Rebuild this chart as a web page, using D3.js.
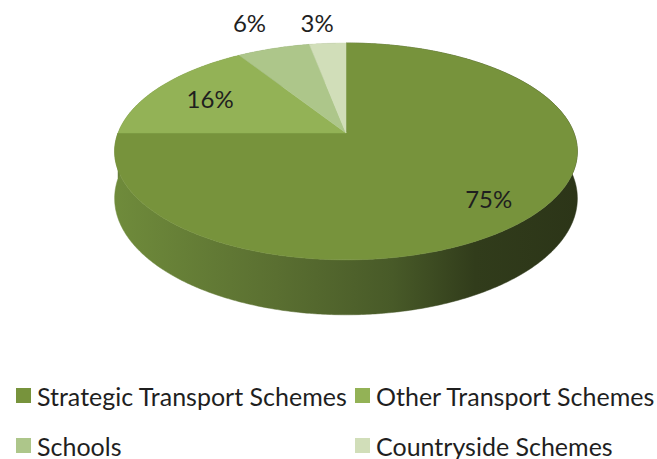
<!DOCTYPE html>
<html>
<head>
<meta charset="utf-8">
<script src="https://cdn.jsdelivr.net/npm/d3@7"></script>
<style>
  body { margin: 0; background: #fff; }
  text { font-family: Lato, "Open Sans", sans-serif; fill: #1f1f1f; }
</style>
</head>
<body>
<div id="chart"></div>
<script>
const categories = ['Strategic Transport Schemes', 'Other Transport Schemes', 'Schools', 'Countryside Schemes'];
const values = [75, 16, 6, 3];
const labels = ['75%', '16%', '6%', '3%'];

const palette = ['#77933c', '#93b256', '#adc68a', '#d1deb9'];

const W = 657, H = 459;

// fake perspective for the tilted disc
const cx = 346, cy = 133;
const k = -0.17;   // perspective strength
const a = 228, b = 105.3;
const depth = 45.6;

function proj(t, r, down) {
    const u = r * Math.sin(t);
    const v = -r * Math.cos(t);
    const w = 1 + k * v;
    return [cx + a * u / w, cy + b * v / w + (down ? depth / w : 0)];
}

function arcPoints(t0, t1, r, down) {
    const n = Math.max(2, Math.ceil((t1 - t0) / 0.01));
    return d3.range(n + 1).map(i => proj(t0 + (t1 - t0) * i / n, r, down));
}

function labelPos(d) {
    const mid = (d.startAngle + d.endAngle) / 2;
    if (d.data.value < 10) {
        // small slices: label outside, above the rim
        const p = proj(mid, 1.3, false);
        return [p[0] - 6, 22];
    }
    return proj(mid, d.data.value > 50 ? 0.8 : 0.72, false);
}

const color = d3.scaleOrdinal().domain(categories).range(palette);

const pie = d3.pie().sort(null).value(d => d.value);
const data = pie(categories.map((c, i) => ({name: c, value: values[i], label: labels[i]})));

const svg = d3.select('#chart')
    .append('svg')
    .attr('width', W)
    .attr('height', H);

const defs = svg.append('defs');
const grad = defs.append('linearGradient')
    .attr('id', 'side')
    .attr('gradientUnits', 'userSpaceOnUse')
    .attr('x1', 115).attr('x2', 577).attr('y1', 0).attr('y2', 0);
[[0, '#6f8b3b'], [0.35, '#5a6f31'], [0.6, '#485a28'], [0.78, '#313c1b'], [1, '#2c3518']]
    .forEach(s => grad.append('stop').attr('offset', s[0]).attr('stop-color', s[1]));

const line = d3.line();

// side walls
svg.append('g')
    .selectAll('path')
    .data(data)
    .enter()
    .append('path')
    .attr('d', d => {
        const top = arcPoints(d.startAngle, d.endAngle, 1, false);
        const bot = arcPoints(d.startAngle, d.endAngle, 1, true).reverse();
        return line(top.concat(bot)) + 'Z';
    })
    .attr('fill', (d, i) => i === 0 ? 'url(#side)' : d3.color(color(d.data.name)).darker(1))
    .attr('stroke', (d, i) => i === 0 ? 'url(#side)' : 'none')
    .attr('stroke-width', 0.5);

// top faces
svg.append('g')
    .selectAll('path')
    .data(data)
    .enter()
    .append('path')
    .attr('d', d => line([proj(0, 0, false)].concat(arcPoints(d.startAngle, d.endAngle, 1, false))) + 'Z')
    .attr('fill', d => color(d.data.name))
    .attr('stroke', d => color(d.data.name))
    .attr('stroke-width', 0.5);

// data labels
svg.append('g')
    .selectAll('text')
    .data(data)
    .enter()
    .append('text')
    .attr('x', d => labelPos(d)[0])
    .attr('y', d => labelPos(d)[1])
    .attr('text-anchor', 'middle')
    .attr('dominant-baseline', 'central')
    .style('font-size', '24px')
    .text(d => d.data.label);

// legend
const legend = svg.append('g')
    .selectAll('g')
    .data(categories)
    .enter()
    .append('g')
    .attr('transform', (d, i) => `translate(${i % 2 ? 355 : 16},${i < 2 ? 388 : 438})`);

legend.append('rect')
    .attr('width', 15)
    .attr('height', 15)
    .attr('fill', d => color(d));

legend.append('text')
    .attr('x', 21)
    .attr('y', 7.5)
    .attr('dominant-baseline', 'central')
    .style('font-size', '25px')
    .text(d => d);
</script>
</body>
</html>
